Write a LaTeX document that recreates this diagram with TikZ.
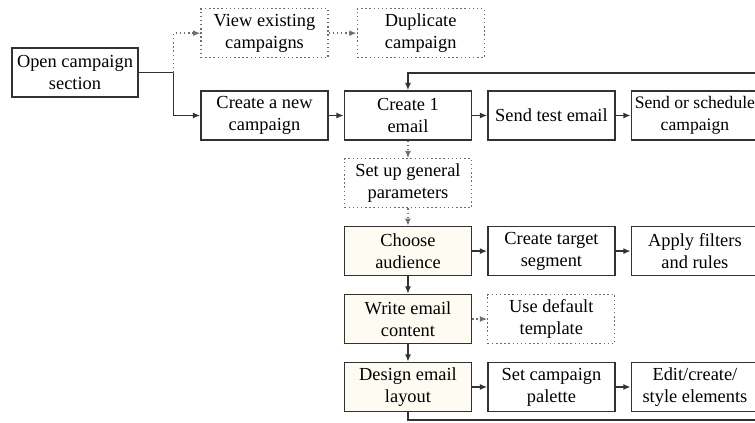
\documentclass[tikz,border=0pt]{standalone}
\usepackage{fontspec}
\setmainfont{Liberation Serif}
\usepackage{xcolor}
\usetikzlibrary{positioning,arrows.meta}
\definecolor{boxline}{RGB}{50,50,50}
\definecolor{dotline}{RGB}{110,110,110}
\definecolor{boxfill}{RGB}{253,251,242}

\begin{document}
\begin{tikzpicture}[
  x=0.75pt, y=-0.75pt,
  node distance=13.1pt and 11.25pt,
  box/.style={draw=boxline, line width=1.1pt, align=center, font=\fontsize{13.8}{16.5}\selectfont,
    inner sep=0.5pt, minimum width=95.25pt, minimum height=36.75pt},
  dotbox/.style={box, draw=dotline, dotted, line width=0.9pt},
  fillbox/.style={box, fill=boxfill},
  arr/.style={-{Latex[length=5.5pt,width=4.5pt]}, line width=1.1pt, draw=boxline},
  dotarr/.style={arr, dotted, draw=dotline}
]
\useasboundingbox (0,0) rectangle (755,422);
\node[box, minimum width=94.5pt] (open) at (75,72.5) {Open campaign\\section};
\node[box] (new) at (264.5,115.5) {Create a new\\campaign};
\node[box, right=of new] (email) {Create 1\\email};
\node[box, right=of email] (test) {Send test email};
\node[box, right=of test, inner sep=0pt, font=\fontsize{13.2}{16.5}\selectfont] (send) {Send or schedule\\campaign};
\node[dotbox, above=24pt of new] (view) {View existing\\campaigns};
\node[dotbox, right=21pt of view] (dup) {Duplicate\\campaign};
\node[dotbox, below=of email] (params) {Set up general\\parameters};
\node[fillbox, below=of params] (audience) {Choose\\audience};
\node[box, right=of audience] (segment) {Create target\\segment};
\node[box, right=of segment] (filters) {Apply filters\\and rules};
\node[fillbox, below=of audience] (content) {Write email\\content};
\node[dotbox, right=of content] (template) {Use default\\template};
\node[fillbox, below=of content] (layout) {Design email\\layout};
\node[box, right=of layout] (palette) {Set campaign\\palette};
\node[box, right=of palette] (elements) {Edit/create/\\style elements};
\coordinate (fork) at ([xshift=26.25pt]open.east);
\coordinate (loopbot) at (762,420);
\coordinate (looptop) at (762,73);
\draw[arr] (open.east) -- (fork) |- (new.west);
\draw[dotarr] (fork) |- (view.west);
\draw[dotarr] (view) -- (dup);
\draw[arr] (new) -- (email);
\draw[arr] (email) -- (test);
\draw[arr] (test) -- (send);
\draw[dotarr] (email) -- (params);
\draw[dotarr] (params) -- (audience);
\draw[arr] (audience) -- (segment);
\draw[arr] (segment) -- (filters);
\draw[arr] (audience) -- (content);
\draw[dotarr] (content) -- (template);
\draw[arr] (content) -- (layout);
\draw[arr] (layout) -- (palette);
\draw[arr] (palette) -- (elements);
\draw[arr] (layout.south) |- (loopbot) -- (looptop) -| (email.north);
\end{tikzpicture}
\end{document}
